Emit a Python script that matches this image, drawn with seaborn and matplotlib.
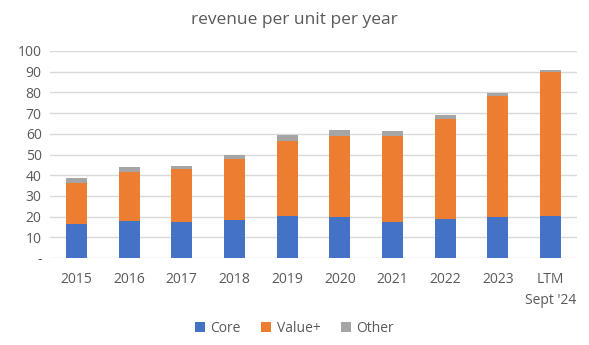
import matplotlib
matplotlib.use("Agg")
import matplotlib.pyplot as plt
from matplotlib.patches import Patch
import seaborn as sns
import pandas as pd
import numpy as np

categories = ["2015", "2016", "2017", "2018", "2019", "2020", "2021", "2022", "2023", "LTM\nSept '24"]
core = [16.6, 18.0, 17.6, 18.5, 20.5, 20.0, 17.6, 19.0, 20.0, 20.5]
value_plus = [19.6, 23.7, 25.4, 29.5, 36.2, 39.1, 41.5, 48.3, 58.4, 69.5]
other = [2.6, 2.1, 1.6, 1.9, 2.9, 2.9, 2.4, 1.9, 1.5, 1.0]
series_names = ["Core", "Value+", "Other"]
colors = ["#4472C4", "#ED7D31", "#A5A5A5"]

sns.set_theme(style="white")
plt.rcParams["font.family"] = ["Open Sans", "DejaVu Sans"]

df = pd.DataFrame({"cat": categories, "core": core, "value": value_plus, "other": other})
df["c1"] = df["core"]
df["c2"] = df["core"] + df["value"]
df["c3"] = df["c2"] + df["other"]

fig = plt.figure(figsize=(5.89, 3.45), dpi=100)
ax = fig.add_axes([50/589, 1 - 258/345, 527/589, 207/345])

for col, color in zip(["c3", "c2", "c1"], colors[::-1]):
    sns.barplot(data=df, x="cat", y=col, color=color, width=0.4, ax=ax,
                saturation=1, zorder=3, edgecolor="none")

ax.set_xlim(-0.5, 9.5)
ax.set_ylim(0, 100)
ax.set_yticks(range(0, 101, 10))
ax.set_yticklabels(["-"] + [str(v) for v in range(10, 101, 10)])
ax.yaxis.grid(True, color="#D9D9D9", linewidth=1, zorder=0)
ax.set_axisbelow(True)
for s in ax.spines.values():
    s.set_visible(False)
ax.set_xlabel("")
ax.set_ylabel("")
ax.tick_params(axis="both", length=0, labelsize=10, colors="#595959", pad=6)
ax.tick_params(axis="x", pad=10)
for lbl in ax.get_xticklabels():
    lbl.set_linespacing(1.6)

fig.text(0.5, 1 - 20/345, "revenue per unit per year", ha="center", va="center",
         fontsize=12.5, color="#595959")

handles = [Patch(facecolor=c, edgecolor="none") for c in colors]
fig.legend(handles, series_names, loc="center", bbox_to_anchor=(0.5, 1 - 328/345),
           ncol=3, frameon=False, fontsize=10, handlelength=0.7, handleheight=0.7,
           handletextpad=0.4, columnspacing=1.5, labelcolor="#595959")

fig.savefig("out.png", dpi=100)
